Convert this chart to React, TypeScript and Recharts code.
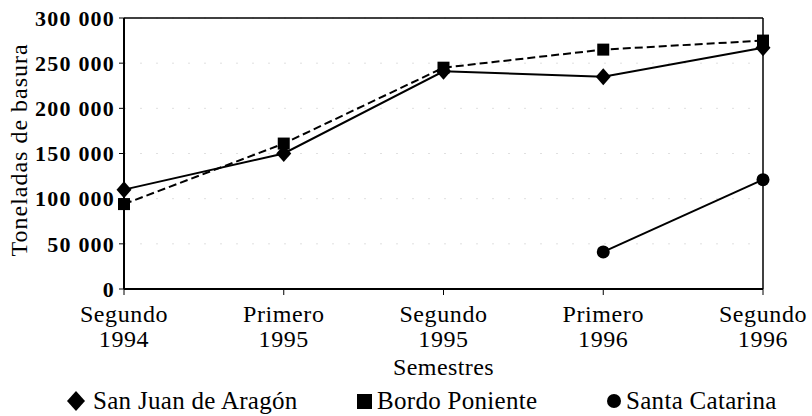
import React from "react";
import { LineChart, Line, XAxis, YAxis, CartesianGrid, Legend, ReferenceLine } from "recharts";

const semesters = ["Segundo", "Primero", "Segundo", "Primero", "Segundo"];
const years = ["1994", "1995", "1995", "1996", "1996"];
const sanJuan = [110000, 150000, 241000, 235000, 267000];
const bordo = [94000, 161000, 245000, 265000, 275000];
const santaCatarina = [null, null, null, 41000, 121000];
const yTicks = [0, 50000, 100000, 150000, 200000, 250000, 300000];
const seriesNames = ["San Juan de Aragón", "Bordo Poniente", "Santa Catarina"];

const data = semesters.map((s, i) => ({
  periodo: `${s} ${years[i]}`,
  sanJuan: sanJuan[i],
  bordo: bordo[i],
  santa: santaCatarina[i],
}));

const FONT = "Liberation Serif, DejaVu Serif, serif";

const fmt = (v: number) => (v === 0 ? "0" : String(v).replace(/(\d)(?=(\d{3})+$)/g, "$1 "));

const Diamond = (p: any) => {
  const { cx, cy } = p;
  if (cx == null || cy == null || p.value == null) return null;
  return <polygon points={`${cx},${cy - 8.5} ${cx + 7.5},${cy} ${cx},${cy + 8.5} ${cx - 7.5},${cy}`} fill="#000" />;
};

const Square = (p: any) => {
  const { cx, cy } = p;
  if (cx == null || cy == null || p.value == null) return null;
  return <rect x={cx - 6} y={cy - 6} width={12} height={12} fill="#000" />;
};

const Dot = (p: any) => {
  const { cx, cy } = p;
  if (cx == null || cy == null || p.value == null) return null;
  return <circle cx={cx} cy={cy} r={6.5} fill="#000" />;
};

const XTick = (p: any) => {
  const { x, y, payload } = p;
  const i = payload.index;
  return (
    <text x={x} y={y} textAnchor="middle" style={{ fontFamily: FONT }} fontSize={24} letterSpacing={0.6} fill="#000">
      <tspan x={x} dy={25}>{semesters[i]}</tspan>
      <tspan x={x} dy={25}>{years[i]}</tspan>
    </text>
  );
};

const legendWidths = [290, 250, 180];
const legendSymbols = [
  <svg width={18} height={20} style={{ marginRight: 8 }}><polygon points="9,0 18,10 9,20 0,10" fill="#000" /></svg>,
  <svg width={15} height={15} style={{ marginRight: 5 }}><rect x={0} y={0} width={15} height={15} fill="#000" /></svg>,
  <svg width={14} height={14} style={{ marginRight: 5 }}><circle cx={7} cy={7} r={7} fill="#000" /></svg>,
];

const LegendContent = () => (
  <div style={{ display: "flex", paddingLeft: 67, fontFamily: FONT, fontSize: 25, color: "#000", height: 30, alignItems: "center" }}>
    {seriesNames.map((n, i) => (
      <span key={n} style={{ width: legendWidths[i], flexShrink: 0, display: "inline-flex", alignItems: "center", whiteSpace: "nowrap", letterSpacing: 0.3 }}>
        {legendSymbols[i]}
        {n}
      </span>
    ))}
  </div>
);

export default function App() {
  return (
    <div style={{ position: "absolute", left: 0, top: 0, background: "#fff", fontFamily: FONT }}>
      <LineChart width={812} height={416} data={data} margin={{ top: 18, right: 49, bottom: 0, left: 0 }} style={{ fontFamily: FONT }}>
        <CartesianGrid vertical={false} stroke="#e0e0e0" strokeDasharray="2 14" />
        <XAxis
          dataKey="periodo"
          height={97}
          tick={<XTick />}
          tickSize={6}
          axisLine={{ stroke: "#000", strokeWidth: 2 }}
          tickLine={{ stroke: "#000" }}
          interval={0}
          label={{ value: "Semestres", position: "insideBottom", offset: 11, fontFamily: FONT, fontSize: 24, letterSpacing: 0.4, fill: "#000" }}
        />
        <YAxis
          domain={[0, 300000]}
          ticks={yTicks}
          width={124}
          tickFormatter={fmt}
          tickSize={5}
          tickMargin={4}
          axisLine={{ stroke: "#000", strokeWidth: 2 }}
          tickLine={{ stroke: "#000" }}
          tick={{ fontFamily: FONT, letterSpacing: 1.2, fontSize: 22, fontWeight: "bold", fill: "#000" }}
          label={{ value: "Toneladas de basura", angle: -90, position: "insideLeft", offset: 18, dy: 103, fontFamily: FONT, letterSpacing: 1, fontSize: 24, fill: "#000" }}
        />
        <ReferenceLine y={300000} stroke="#000" strokeWidth={1.5} />
        <ReferenceLine x="Segundo 1996" stroke="#000" strokeWidth={1.5} />
        <Legend verticalAlign="bottom" content={<LegendContent />} />
        <Line dataKey="sanJuan" name={seriesNames[0]} stroke="#000" strokeWidth={2} dot={<Diamond />} isAnimationActive={false} />
        <Line dataKey="bordo" name={seriesNames[1]} stroke="#000" strokeWidth={2} strokeDasharray="8 4" dot={<Square />} isAnimationActive={false} />
        <Line dataKey="santa" name={seriesNames[2]} stroke="#000" strokeWidth={2} dot={<Dot />} isAnimationActive={false} />
      </LineChart>
    </div>
  );
}
